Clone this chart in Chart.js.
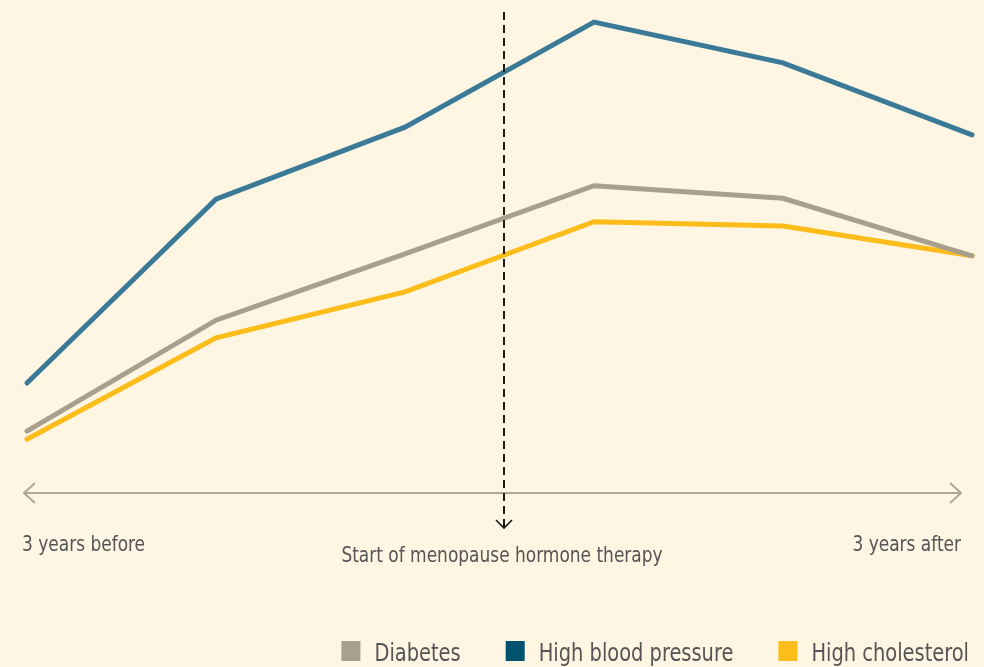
<!DOCTYPE html>
<html>
<head>
<meta charset="utf-8">
<script src="https://cdn.jsdelivr.net/npm/chart.js@4"></script>
<style>
  html, body { margin: 0; padding: 0; background: #fef5e2; }
  #wrap { width: 984px; height: 667px; position: relative; }
</style>
</head>
<body>
<div id="wrap"><canvas id="chart"></canvas></div>
<script>
// years relative to the start of hormone therapy
const xYears = [-3, -1.8, -0.6, 0.6, 1.8, 3];
const diabetes = [12.7, 35.8, 49.6, 63.8, 61.2, 49.2];
const bloodPressure = [22.7, 61.0, 76.0, 97.9, 89.4, 74.4];
const cholesterol = [11.0, 32.1, 41.7, 56.3, 55.4, 49.2];
const therapyStart = 0.03;
const axisLabels = ['3 years before', 'Start of menopause hormone therapy', '3 years after'];

const FONT = '"DejaVu Sans Condensed", "Liberation Sans Narrow", sans-serif';
const SQUISH = 0.9; // condense text horizontally, closer to the original face

function pts(vals) {
  return vals.map((v, i) => ({ x: xYears[i], y: v }));
}

function chevron(ctx, tipX, tipY, dx, dy, px, py) {
  ctx.beginPath();
  ctx.moveTo(tipX + dx + px, tipY + dy + py);
  ctx.lineTo(tipX, tipY);
  ctx.lineTo(tipX + dx - px, tipY + dy - py);
  ctx.stroke();
}

function text(ctx, str, x, y, align) {
  ctx.save();
  ctx.translate(x, y);
  ctx.scale(SQUISH, 1);
  ctx.textAlign = align;
  ctx.fillText(str, 0, 0);
  ctx.restore();
}

const extras = {
  id: 'extras',
  beforeDatasetsDraw(chart) {
    const ctx = chart.ctx;
    const area = chart.chartArea;
    ctx.save();
    // timeline arrow
    const ay = area.bottom + 1;
    const left = 24, right = 961;
    ctx.strokeStyle = '#b1a793';
    ctx.lineWidth = 2;
    ctx.beginPath();
    ctx.moveTo(left, ay);
    ctx.lineTo(right, ay);
    ctx.stroke();
    chevron(ctx, left, ay, 11, 0, 0, 10);
    chevron(ctx, right, ay, -11, 0, 0, 10);
    ctx.restore();
  },
  afterDatasetsDraw(chart) {
    const ctx = chart.ctx;
    const xs = chart.scales.x;
    const area = chart.chartArea;
    ctx.save();
    // therapy start marker
    const mx = Math.round(xs.getPixelForValue(therapyStart));
    ctx.strokeStyle = '#1a1a1a';
    ctx.lineWidth = 2;
    ctx.setLineDash([8, 5]);
    ctx.beginPath();
    ctx.moveTo(mx, area.top);
    ctx.lineTo(mx, 527);
    ctx.stroke();
    ctx.setLineDash([]);
    ctx.lineWidth = 1.6;
    chevron(ctx, mx, 528, 0, -8, 8, 0);

    // axis labels
    ctx.fillStyle = '#555555';
    ctx.font = '21px ' + FONT;
    ctx.textBaseline = 'alphabetic';
    text(ctx, axisLabels[0], 22, 551, 'left');
    text(ctx, axisLabels[1], 502, 562, 'center');
    text(ctx, axisLabels[2], 961, 551, 'right');

    // legend
    ctx.font = '24px ' + FONT;
    const items = chart.data.datasets;
    const box = 19, boxGap = 14, itemGap = 45;
    const w = s => ctx.measureText(s).width * SQUISH;
    let total = 0;
    items.forEach((d, i) => {
      total += box + boxGap + w(d.label) + (i < items.length - 1 ? itemGap : 0);
    });
    let x = 969 - total;
    items.forEach(d => {
      ctx.fillStyle = d.legendColor;
      ctx.fillRect(x, 641, box, 20);
      x += box + boxGap;
      ctx.fillStyle = '#555555';
      text(ctx, d.label, x, 661, 'left');
      x += w(d.label) + itemGap;
    });
    ctx.restore();
  }
};

new Chart(document.getElementById('chart'), {
  type: 'line',
  data: {
    datasets: [
      {
        label: 'Diabetes',
        data: pts(diabetes),
        borderColor: '#a89f8c',
        legendColor: '#a89f8c',
        borderWidth: 5,
        borderCapStyle: 'round',
        pointRadius: 0,
        tension: 0
      },
      {
        label: 'High blood pressure',
        data: pts(bloodPressure),
        borderColor: '#3b7a96',
        legendColor: '#00526f',
        borderWidth: 5,
        borderCapStyle: 'round',
        pointRadius: 0,
        tension: 0
      },
      {
        label: 'High cholesterol',
        data: pts(cholesterol),
        borderColor: '#fcbd1b',
        legendColor: '#fcbd1b',
        borderWidth: 5,
        borderCapStyle: 'round',
        pointRadius: 0,
        tension: 0
      }
    ]
  },
  options: {
    responsive: true,
    maintainAspectRatio: false,
    animation: false,
    clip: false,
    layout: { padding: { left: 27, right: 12, top: 12, bottom: 175 } },
    plugins: {
      legend: { display: false },
      tooltip: { enabled: false }
    },
    scales: {
      x: { type: 'linear', min: -3, max: 3, display: false },
      y: { min: 0, max: 100, display: false }
    }
  },
  plugins: [extras]
});
</script>
</body>
</html>
